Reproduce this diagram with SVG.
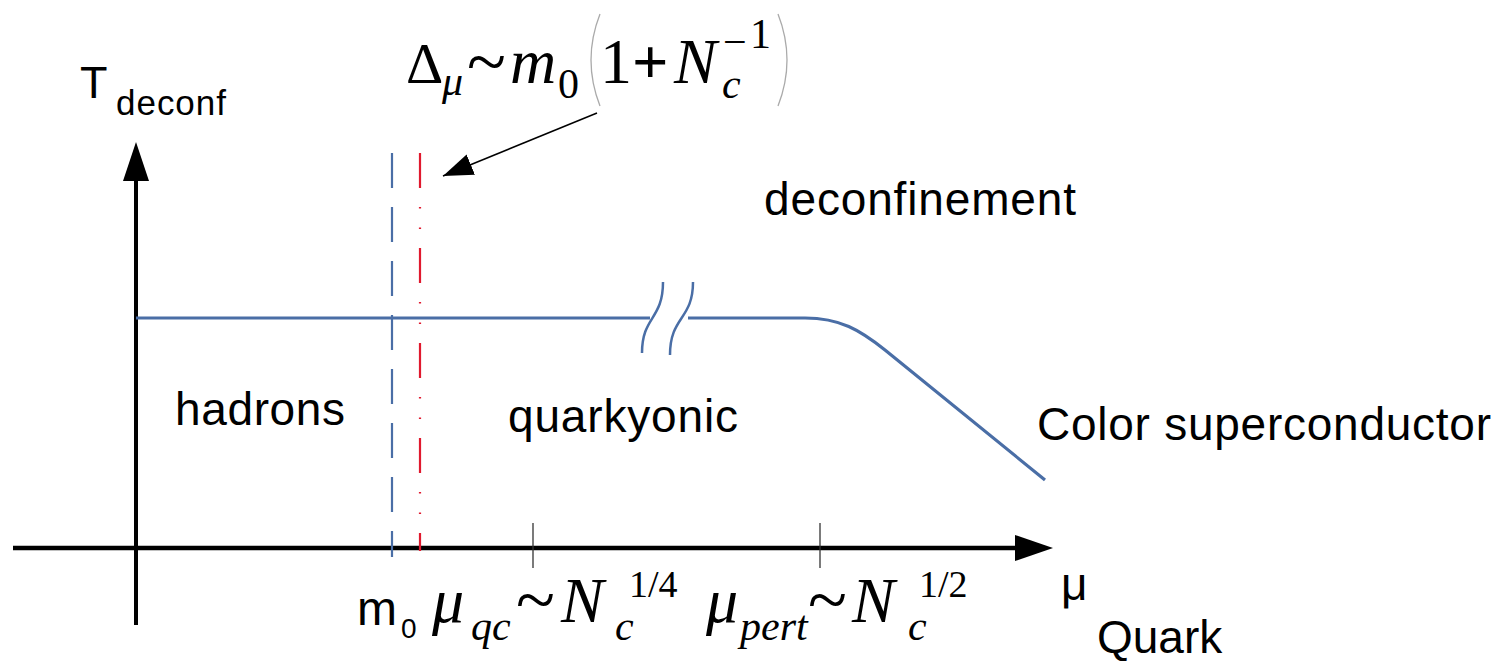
<svg xmlns="http://www.w3.org/2000/svg" width="1512" height="661" viewBox="0 0 1512 661">
<style>
.sans{font-family:"Liberation Sans",Arial,sans-serif;fill:#000}
.lbl{font-size:46px}
.ser{font-family:"Liberation Serif","Times New Roman",serif;fill:#000}
.it{font-style:italic}
.big{font-size:64px}
.tl{font-size:72px}
.sub{font-size:42px}
.sup{font-size:38px}
.blue{stroke:#4a6ea6;fill:none}
</style>
<defs>
<marker id="ah" markerUnits="userSpaceOnUse" markerWidth="32" markerHeight="24" refX="30" refY="11" orient="auto">
<path d="M0 0 L30 11 L0 22 Z" fill="#000"/>
</marker>
</defs>
<rect width="1512" height="661" fill="#fff"/>

<g id="axes">
<line x1="13" y1="548" x2="1018" y2="548" stroke="#000" stroke-width="4.5"/>
<path d="M1015 535 L1053 548 L1015 561 Z" fill="#000"/>
<line x1="136" y1="625" x2="136" y2="178" stroke="#000" stroke-width="4"/>
<path d="M136 142 L149 181 L123 181 Z" fill="#000"/>
<line x1="533" y1="523" x2="533" y2="568" stroke="#333" stroke-width="1.3"/>
<line x1="820" y1="523" x2="820" y2="568" stroke="#333" stroke-width="1.3"/>
</g>

<g id="phase-boundary">
<path class="blue" stroke-width="3.2" d="M136 318 L650 318"/>
<path class="blue" stroke-width="3.2" d="M688 318 L805 318 C840 318 860 330 885 350 L1045 480"/>
<path class="blue" stroke-width="2.5" d="M642 353 C642 316 663 320 663 282"/>
<path class="blue" stroke-width="2.5" d="M670 355 C670 316 693 320 693 282"/>
</g>

<g id="m0-line">
<line x1="392" y1="153" x2="392" y2="557" stroke="#4a6ea6" stroke-width="2.2" stroke-dasharray="35 19"/>
</g>
<g id="delta-line">
<line x1="420" y1="153" x2="420" y2="551" stroke="#e0192e" stroke-width="2.2" stroke-dasharray="35 19 1.5 19 1.5 19"/>
</g>

<g id="connectors">
<line x1="597" y1="113" x2="443" y2="176" stroke="#000" stroke-width="1.5" marker-end="url(#ah)"/>
</g>

<g id="axis-label-y">
<text class="sans" x="80" y="98" font-size="45">T</text>
<text class="sans" x="116" y="115" font-size="35" textLength="110">deconf</text>
</g>
<g id="axis-label-x">
<text class="sans" x="1061" y="600" font-size="46">μ</text>
<text class="sans lbl" x="1097" y="653">Quark</text>
</g>

<g id="region-deconfinement"><text class="sans lbl" x="764" y="215" textLength="312">deconfinement</text></g>
<g id="region-hadrons"><text class="sans lbl" x="175" y="425" textLength="170">hadrons</text></g>
<g id="region-quarkyonic"><text class="sans lbl" x="508" y="432" textLength="230">quarkyonic</text></g>
<g id="region-csc"><text class="sans lbl" x="1037" y="440" textLength="454">Color superconductor</text></g>

<g id="formula-delta">
<text class="ser" x="406" y="83" font-size="58">Δ</text>
<text class="ser it sub" x="442" y="95">μ</text>
<text class="ser tl" x="467" y="86">~</text>
<text class="ser it big" x="510" y="83">m</text>
<text class="ser sub" x="558" y="98">0</text>
<path d="M600 14 Q582 60 600 106" fill="none" stroke="#aaa" stroke-width="1.3"/>
<text class="ser big" x="600" y="83">1</text>
<text class="ser big" x="632" y="83" font-weight="bold">+</text>
<text class="ser it big" x="674" y="83">N</text>
<text class="ser it sub" x="722" y="98">c</text>
<text class="ser sub" x="723" y="56">−</text>
<text class="ser sub" x="750" y="48">1</text>
<path d="M778 14 Q796 60 778 106" fill="none" stroke="#aaa" stroke-width="1.3"/>
</g>

<g id="label-m0">
<text class="sans" x="357" y="625" font-size="48">m</text>
<text class="sans" x="401" y="638" font-size="28">0</text>
</g>

<g id="label-muqc">
<text class="ser it big" x="432" y="622">μ</text>
<text class="ser it sub" x="471" y="640">qc</text>
<text class="ser tl" x="516" y="624">~</text>
<text class="ser it big" x="561" y="622">N</text>
<text class="ser it sub" x="615" y="640">c</text>
<text class="ser sup" x="629" y="597">1/4</text>
</g>

<g id="label-mupert">
<text class="ser it big" x="706" y="622">μ</text>
<text class="ser it sub" x="740" y="640">pert</text>
<text class="ser tl" x="808" y="624">~</text>
<text class="ser it big" x="852" y="622">N</text>
<text class="ser it sub" x="908" y="640">c</text>
<text class="ser sup" x="919" y="597">1/2</text>
</g>
</svg>
